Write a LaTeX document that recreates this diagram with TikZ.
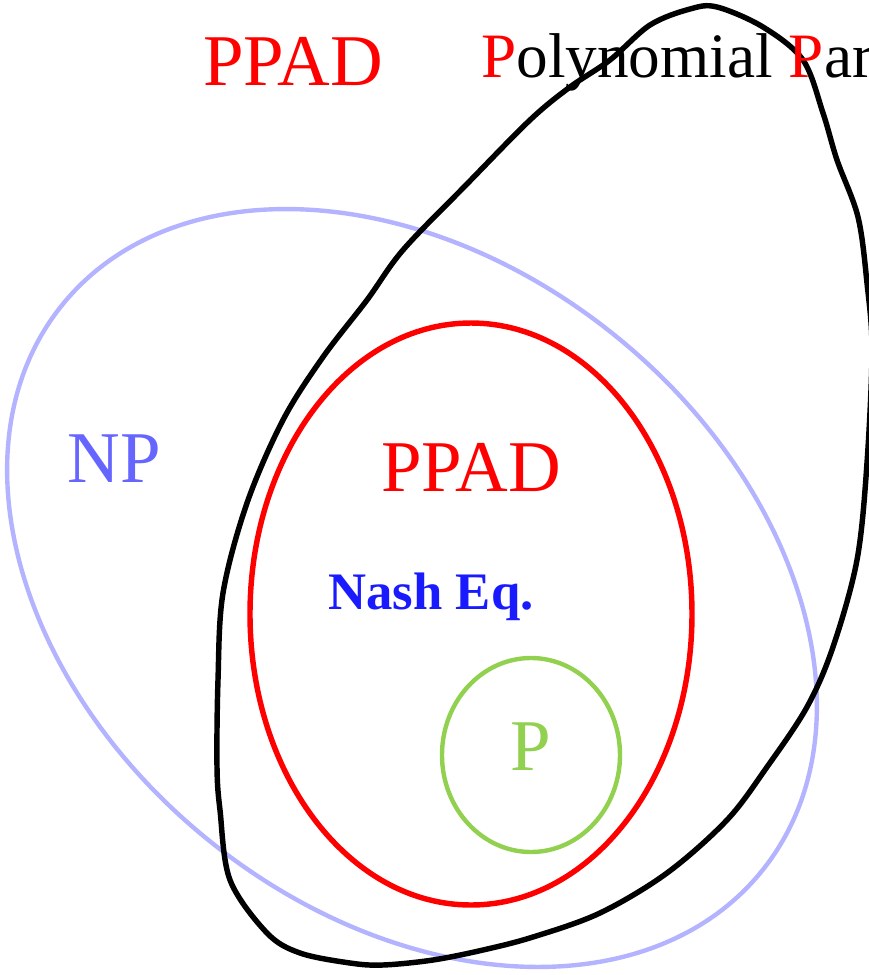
\documentclass[tikz,border=0pt]{standalone}
\usepackage{fontspec}
\setmainfont{Liberation Serif}
\definecolor{npline}{RGB}{179,179,255}
\definecolor{nptext}{RGB}{102,102,255}
\definecolor{nashblue}{RGB}{26,26,255}
\definecolor{pgreen}{RGB}{146,208,80}

\begin{document}
\begin{tikzpicture}[x=0.02cm,y=-0.02cm,
  big/.style={inner sep=0pt,font=\fontsize{41.5}{48}\selectfont},
  classline/.style={line width=3.1pt}]
  \useasboundingbox (0,0) rectangle (869,975);
  \clip (0,0) rectangle (869,975);
  \draw[npline,line width=2.5pt,rotate around={-39:(412,588)}] (412,588) ellipse [x radius=450,y radius=324];
  \draw[red,classline] (471,614) ellipse [x radius=221,y radius=291];
  \draw[pgreen,line width=2.5pt] (531,755) ellipse [x radius=89,y radius=97];
  \draw[black,classline,line join=round] plot[smooth cycle,tension=0.55] coordinates {
    (220,810) (230,880) (267,933) (300,953) (350,963) (383,965) (433,960)
    (483,950) (533,937) (600,913) (667,873) (727,820) (767,767) (807,707)
    (833,647) (857,560) (867,463) (872,350) (867,283) (858,217) (837,160)
    (823,113) (803,60) (763,27) (717,7) (690,9) (650,25) (610,60) (570,87)
    (530,120) (466,185) (403,250) (367,300) (323,357) (283,420) (247,503)
    (223,593) (218,680) (217,767)};
  \node[big,red,anchor=base] (ppadtop) at (293,85) {PPAD};
  \node[inner sep=0pt,anchor=base west,font=\fontsize{36}{42}\selectfont] (ppadname) at (481,77) {\textcolor{red}{P}olynomial \textcolor{red}{P}arity};
  \node[big,nptext,anchor=base] (np) at (114,482) {NP};
  \node[big,red,anchor=base] (ppad) at (471,491) {PPAD};
  \node[inner sep=0pt,nashblue,anchor=base,font=\bfseries\fontsize{30}{36}\selectfont] (nash) at (431,609) {Nash Eq.};
  \node[big,pgreen,anchor=base] (p) at (531,770) {P};
\end{tikzpicture}
\end{document}
